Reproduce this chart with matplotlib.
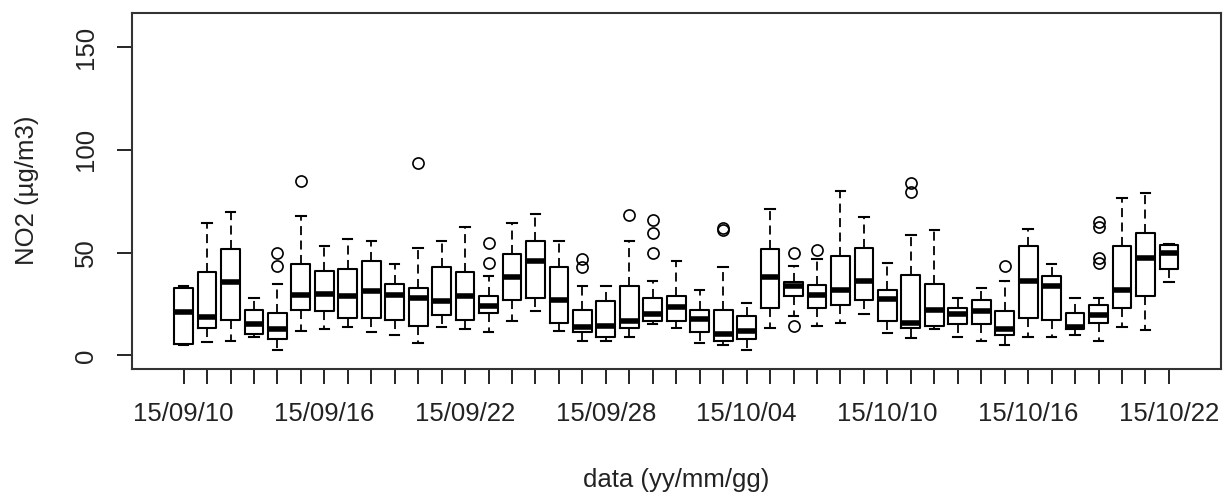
import numpy as np
import pandas as pd
import matplotlib
matplotlib.use("Agg")
import matplotlib.pyplot as plt

# daily NO2 boxplot stats
days = pd.date_range("2015-09-10", "2015-10-22").strftime("%y/%m/%d").tolist()

whislo = [4.8, 6.6, 7.2, 9.0, 2.4, 11.8, 12.6, 13.7, 11.3, 9.7,
          5.8, 13.7, 12.9, 11.3, 16.6, 21.4, 11.8, 7.2, 7.2, 8.9,
          15.3, 13.4, 5.8, 4.8, 2.4, 13.4, 19.3, 14.5, 15.8, 20.1,
          11.0, 8.5, 12.9, 8.9, 7.2, 4.8, 8.9, 8.9, 9.7, 7.2,
          13.7, 12.1, 35.6]
q1 = [5.6, 13.4, 17.4, 10.5, 8.1, 22.2, 21.4, 18.2, 18.2, 17.4,
      14.5, 19.8, 17.4, 20.6, 27.1, 27.9, 15.8, 11.3, 8.9, 13.4,
      16.6, 16.6, 11.3, 6.9, 8.1, 23.0, 28.7, 23.0, 24.6, 26.7,
      16.6, 13.4, 14.2, 15.3, 15.3, 9.7, 18.2, 17.4, 12.6, 15.8,
      23.0, 28.7, 42.0]
med = [20.9, 18.5, 35.9, 15.3, 12.9, 29.5, 30.0, 28.7, 31.1, 29.5,
       27.9, 26.2, 28.7, 24.2, 38.3, 46.1, 27.1, 13.7, 14.5, 16.6,
       20.1, 23.3, 17.7, 10.5, 11.8, 38.3, 33.5, 29.3, 31.9, 36.4,
       27.5, 15.8, 22.2, 20.1, 21.4, 12.6, 36.4, 33.5, 13.7, 19.8,
       31.9, 47.5, 49.9]
q3 = [32.7, 40.4, 51.5, 22.2, 20.6, 44.4, 41.2, 42.0, 46.1, 34.8,
      32.7, 42.8, 40.4, 28.7, 49.1, 55.6, 42.8, 22.2, 26.2, 33.5,
      27.9, 28.7, 22.2, 22.2, 19.0, 51.5, 35.6, 34.0, 48.3, 52.3,
      31.9, 39.1, 34.8, 23.0, 27.1, 21.4, 53.1, 38.8, 20.6, 24.6,
      53.1, 59.6, 53.6]
whishi = [33.5, 64.4, 69.7, 27.9, 34.8, 67.8, 53.1, 56.4, 55.6, 44.4,
          52.3, 55.7, 62.5, 38.6, 64.4, 68.9, 55.7, 33.5, 33.5, 55.7,
          36.2, 46.1, 31.6, 42.8, 25.4, 71.3, 43.5, 46.7, 79.9, 67.3,
          45.1, 58.5, 60.9, 27.9, 32.7, 36.2, 61.7, 44.4, 27.9, 27.9,
          76.6, 79.1, 54.4]
outliers = [[], [], [], [], [43.6, 49.9], [84.7], [], [], [], [],
            [93.4], [], [], [45.1, 54.7], [], [], [], [42.8, 46.7], [], [68.1],
            [49.9, 59.6, 66.0], [], [], [61.0, 61.8], [], [], [14.2, 49.9], [51.2], [], [],
            [], [79.4, 83.7], [], [], [], [43.6], [], [], [], [44.8, 47.5, 62.5, 64.9],
            [], [], []]

stats = []
for i in range(len(days)):
    stats.append(dict(whislo=whislo[i], q1=q1[i], med=med[i], q3=q3[i],
                      whishi=whishi[i], fliers=outliers[i], label=days[i]))

plt.rcParams['font.family'] = ['Liberation Sans', 'DejaVu Sans']
txt = '#222222'

fig = plt.figure(figsize=(12.29, 4.98), dpi=100)
ax = fig.add_axes([131.5 / 1229, 1 - 368.5 / 498, (1221 - 131.5) / 1229, (368.5 - 13.3) / 498])

pos = np.arange(1, len(days) + 1)
ax.bxp(stats, positions=pos, widths=0.8, capwidths=0.4, showfliers=True,
       boxprops=dict(color='black', linewidth=1.5),
       medianprops=dict(color='black', linewidth=4, solid_capstyle='butt'),
       whiskerprops=dict(color='black', linewidth=1.3, linestyle=(0, (5, 3))),
       capprops=dict(color='black', linewidth=1.5),
       flierprops=dict(marker='o', markerfacecolor='none', markeredgecolor='black',
                       markersize=8, markeredgewidth=1.2))

ax.set_xlim(0.5 - 0.04 * 43, 43.5 + 0.04 * 43)
ax.set_ylim(-6.4, 166.4)

ax.set_xticks(pos)
ax.set_xticklabels([d if i % 6 == 0 else '' for i, d in enumerate(days)])
ax.set_yticks([0, 50, 100, 150])
ax.tick_params(axis='x', length=11, width=1.2, pad=13, labelsize=18.5, colors='black', labelcolor=txt)
ax.tick_params(axis='y', length=11, width=1.2, pad=13, labelsize=18.5, colors='black', labelcolor=txt)
for lab in ax.get_yticklabels():
    lab.set_rotation(90)
    lab.set_va('center')

for s in ax.spines.values():
    s.set_linewidth(1.5)
    s.set_color('#333333')

fig.text(676 / 1229, 1 - 480 / 498, 'data (yy/mm/gg)', ha='center', va='center',
         fontsize=18.5, color=txt)
fig.text(27 / 1229, 1 - 190 / 498, 'NO2 (µg/m3)', ha='center', va='center',
         rotation=90, fontsize=18.5, color=txt)

fig.savefig('out.png', dpi=100)
